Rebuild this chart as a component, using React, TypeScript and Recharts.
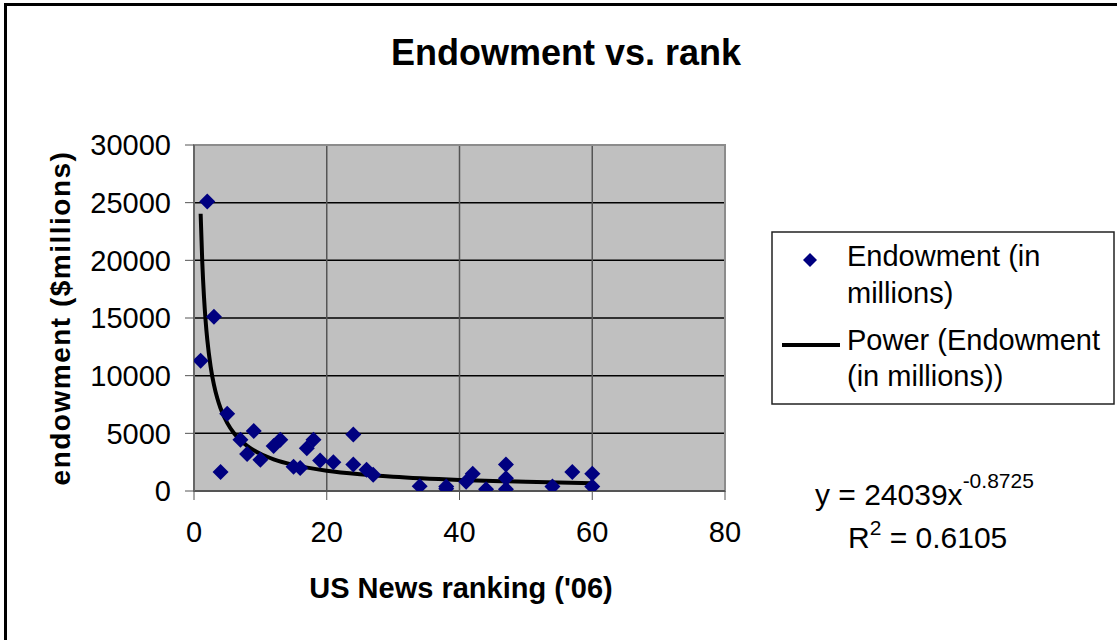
import React from 'react'
import {
  ComposedChart, Scatter, Line, XAxis, YAxis, CartesianGrid, ReferenceArea,
} from 'recharts'

// Endowment vs. US News rank, with the power trend line Excel drew on it.
const ranks = [1, 2, 3, 4, 5, 7, 8, 9, 10, 12, 13, 15, 16, 17, 18, 19, 21, 24, 24, 26, 27, 34, 38, 38, 41, 42, 44, 47, 47, 47, 54, 57, 60, 60]
const endowments = [11300, 25100, 15100, 1650, 6700, 4450, 3200, 5200, 2700, 3900, 4450, 2100, 2000, 3700, 4450, 2650, 2500, 4900, 2300, 1850, 1400, 420, 380, 200, 800, 1500, 150, 2300, 1100, 150, 380, 1650, 1500, 380]

const trendX = [1, 1.25, 1.5, 1.75, 2, 2.5, 3, 3.5, 4, 5, 6, 7, 8, 10, 12, 15, 20, 25, 30, 40, 50, 60]
const trendY = [24039, 19787, 16875, 14753, 13130, 10808, 9219, 8058, 7172, 5904, 5035, 4401, 3917, 3224, 2750, 2264, 1761, 1450, 1236, 962, 792, 675]

const xTicks = [0, 20, 40, 60, 80]
const yTicks = [0, 5000, 10000, 15000, 20000, 25000, 30000]

const seriesName = 'Endowment (in millions)'
const trendName = 'Power (Endowment (in millions))'

const FONT = '"Liberation Sans", Arial, sans-serif'
const NAVY = '#000080'

const points = ranks.map((x, i) => ({ x, y: endowments[i] }))
const trend = trendX.map((x, i) => ({ x, y: trendY[i] }))

function Diamond(props: any) {
  const { cx, cy } = props
  if (cx == null || cy == null) return null
  const r = 8
  return (
    <polygon
      points={`${cx},${cy - r} ${cx + r},${cy} ${cx},${cy + r} ${cx - r},${cy}`}
      fill={NAVY}
    />
  )
}

const tickStyle = { fontSize: 29, fill: '#000', fontFamily: FONT }

export default function App() {
  return (
    <div style={{ position: 'absolute', left: 0, top: 0, width: 1117, height: 640, overflow: 'hidden', background: '#fff' }}>
      <div style={{ position: 'absolute', left: 4, top: 3, width: 1200, height: 700, borderLeft: '3px solid #000', borderTop: '3px solid #000' }} />
      <ComposedChart width={1117} height={640} margin={{ top: 145, right: 392, left: 74, bottom: 89 }}>
        <CartesianGrid vertical={false} stroke="#000" strokeWidth={1.5} fill="#C0C0C0" fillOpacity={1} />
        <CartesianGrid horizontal={false} stroke="#555" strokeWidth={1.5} />
        <XAxis
          type="number" dataKey="x" domain={[0, 80]} ticks={xTicks} allowDataOverflow
          height={60} tickSize={9} tickMargin={21} tick={tickStyle}
          axisLine={{ stroke: '#555', strokeWidth: 2 }} tickLine={{ stroke: '#555' }}
        />
        <YAxis
          type="number" dataKey="y" domain={[0, 30000]} ticks={yTicks} allowDataOverflow
          width={120} tickSize={9} tickMargin={14} tick={tickStyle}
          axisLine={{ stroke: '#666', strokeWidth: 2 }} tickLine={{ stroke: '#555' }}
        />
        <ReferenceArea x1={0} x2={80} y1={0} y2={30000} fill="none" stroke="#8c8c8c" strokeWidth={2} />
        <Scatter name={seriesName} data={points} dataKey="y" shape={Diamond} isAnimationActive={false} />
        <Line name={trendName} data={trend} dataKey="y" type="monotone" stroke="#000" strokeWidth={4}
          dot={false} activeDot={false} isAnimationActive={false} />
      </ComposedChart>

      <svg width={1117} height={640} style={{ position: 'absolute', left: 0, top: 0, pointerEvents: 'none' }}>
        <g fontFamily={FONT} fill="#000">
          <text x={566} y={65} textAnchor="middle" fontSize={36} fontWeight="bold">Endowment vs. rank</text>
          <text x={461} y={598} textAnchor="middle" fontSize={29} fontWeight="bold">US News ranking ('06)</text>
          <text transform="translate(70,318) rotate(-90)" textAnchor="middle" fontSize={28} fontWeight="bold" letterSpacing={1.5}>
            endowment ($millions)
          </text>

          <rect x={772} y={232} width={342} height={172} fill="#fff" stroke="#222" strokeWidth={1.5} />
          <polygon points="810,253 817,260 810,267 803,260" fill={NAVY} />
          <line x1={782} y1={345} x2={840} y2={345} stroke="#000" strokeWidth={4} />
          <g fontSize={29}>
            <text x={847} y={266}>Endowment (in</text>
            <text x={847} y={303}>millions)</text>
            <text x={847} y={350}>Power (Endowment</text>
            <text x={847} y={386}>(in millions))</text>
          </g>

          <text x={815} y={505} fontSize={30}>
            y = 24039x<tspan fontSize={21} dy={-17}>-0.8725</tspan>
          </text>
          <text x={848} y={548} fontSize={30}>
            R<tspan fontSize={21} dy={-13}>2</tspan><tspan dy={13}> = 0.6105</tspan>
          </text>
        </g>
      </svg>
    </div>
  )
}
